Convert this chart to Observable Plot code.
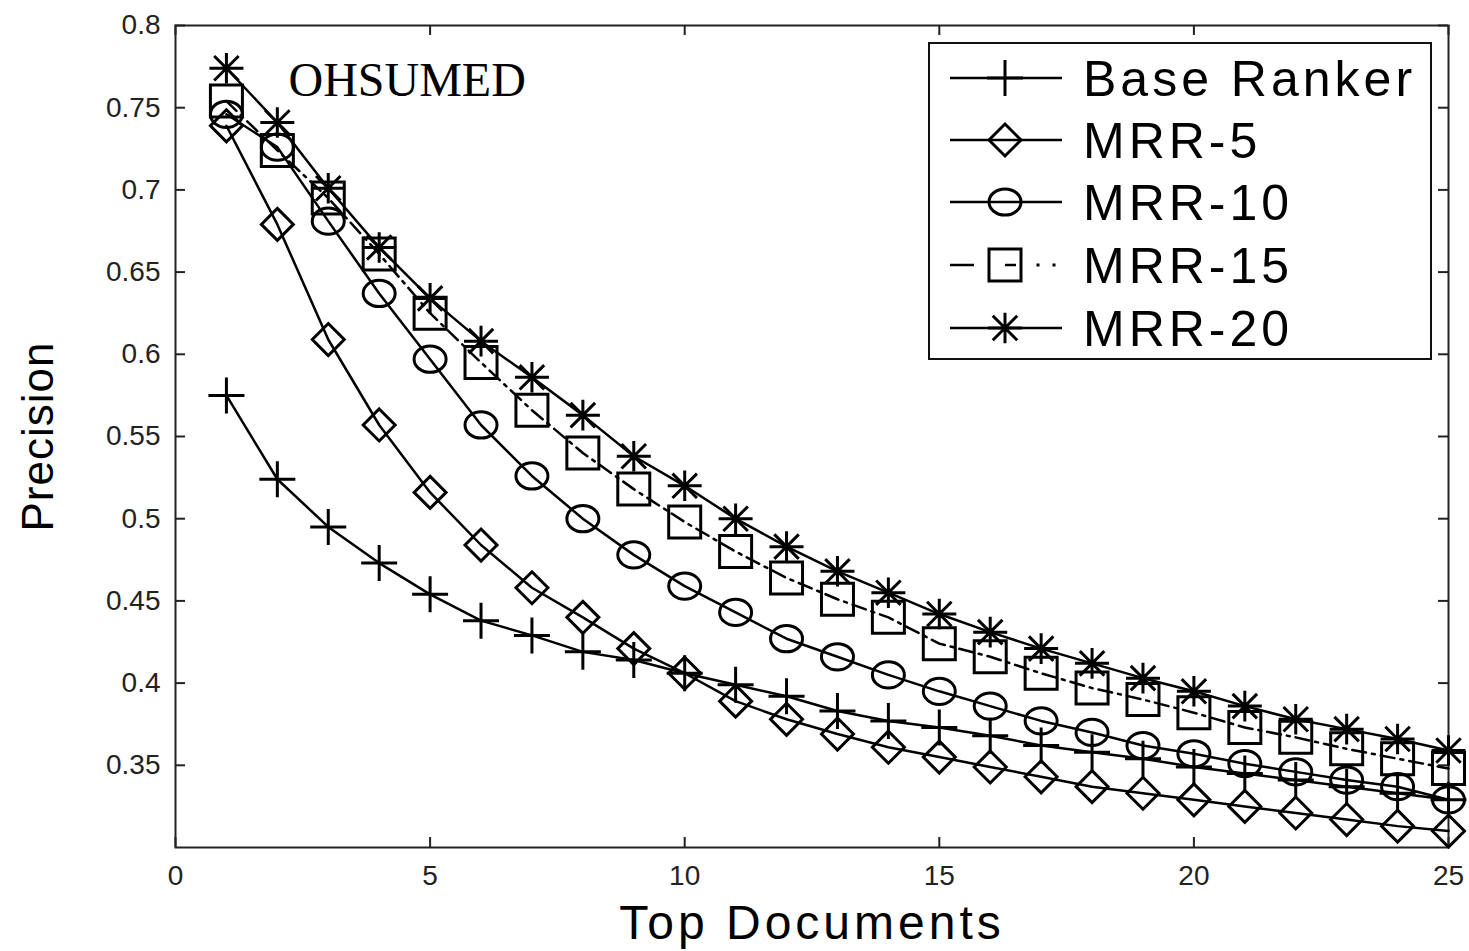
<!DOCTYPE html>
<html><head><meta charset="utf-8">
<script src="https://cdn.jsdelivr.net/npm/d3@7"></script>
<script src="https://cdn.jsdelivr.net/npm/@observablehq/plot@0.6"></script>
<style>
html,body{margin:0;padding:0;background:#fff;}
#wrap{position:relative;width:1469px;height:951px;}
</style>
</head><body>
<div id="wrap"></div>
<script>
// ---- data ----
const topDocs = [1,2,3,4,5,6,7,8,9,10,11,12,13,14,15,16,17,18,19,20,21,22,23,24,25];
const seriesNames = ["Base Ranker","MRR-5","MRR-10","MRR-15","MRR-20"];
const baseRanker = [0.575,0.524,0.495,0.473,0.454,0.438,0.429,0.419,0.414,0.406,0.399,0.392,0.383,0.377,0.373,0.368,0.362,0.358,0.354,0.349,0.345,0.341,0.337,0.333,0.329];
const mrr5  = [0.739,0.679,0.609,0.557,0.516,0.484,0.458,0.440,0.421,0.406,0.389,0.378,0.369,0.361,0.355,0.349,0.343,0.337,0.333,0.329,0.325,0.321,0.317,0.313,0.310];
const mrr10 = [0.746,0.726,0.681,0.637,0.597,0.557,0.526,0.500,0.478,0.459,0.443,0.427,0.416,0.405,0.395,0.386,0.377,0.370,0.362,0.357,0.351,0.346,0.341,0.337,0.329];
const mrr15 = [0.754,0.724,0.695,0.661,0.625,0.595,0.566,0.540,0.518,0.498,0.480,0.464,0.451,0.440,0.424,0.416,0.406,0.397,0.390,0.382,0.373,0.367,0.360,0.354,0.348];
const mrr20 = [0.774,0.741,0.701,0.665,0.634,0.608,0.586,0.563,0.538,0.520,0.500,0.483,0.468,0.455,0.442,0.431,0.421,0.412,0.403,0.395,0.386,0.378,0.372,0.366,0.359];
const xTicks = [0,5,10,15,20,25];
const yTicks = [0.35,0.4,0.45,0.5,0.55,0.6,0.65,0.7,0.75,0.8];
const xLabel = "Top Documents";
const yLabel = "Precision";
const annotation = "OHSUMED";

// ---- symbols (MATLAB-like, unfilled) ----
const R = s => Math.sqrt(s / Math.PI);
const symPlus = {draw(c, s){const r=R(s); c.moveTo(-r,0); c.lineTo(r,0); c.moveTo(0,-r); c.lineTo(0,r);}};
const symDiamond = {draw(c, s){const r=R(s); c.moveTo(0,-r); c.lineTo(r,0); c.lineTo(0,r); c.lineTo(-r,0); c.closePath();}};
const symCircle = {draw(c, s){const rx=R(s), ry=rx*0.82, k=0.5523;
  c.moveTo(rx,0); c.bezierCurveTo(rx,k*ry,k*rx,ry,0,ry); c.bezierCurveTo(-k*rx,ry,-rx,k*ry,-rx,0);
  c.bezierCurveTo(-rx,-k*ry,-k*rx,-ry,0,-ry); c.bezierCurveTo(k*rx,-ry,rx,-k*ry,rx,0); c.closePath();}};
const symSquare = {draw(c, s){const r=R(s); c.moveTo(-r,-r); c.lineTo(r,-r); c.lineTo(r,r); c.lineTo(-r,r); c.closePath();}};
const symStar = {draw(c, s){const r=R(s), d=r*0.72; c.moveTo(-r,0); c.lineTo(r,0); c.moveTo(0,-r*0.9); c.lineTo(0,r*0.9);
  c.moveTo(-d,-d); c.lineTo(d,d); c.moveTo(-d,d); c.lineTo(d,-d);}};

const seriesValues = [baseRanker, mrr5, mrr10, mrr15, mrr20];
const styles = [
  {symbol: symPlus, r: 18, dash: null},
  {symbol: symDiamond, r: 16, dash: null},
  {symbol: symCircle, r: 16, dash: null},
  {symbol: symSquare, r: 16, dash: "14,6,3,6"},
  {symbol: symStar, r: 17, dash: null}
];

const rows = [];
seriesNames.forEach((name, i) => topDocs.forEach((x, j) => rows.push({series: name, x, y: seriesValues[i][j]})));

const W = 1469, H = 951, mL = 175, mR = 21, mT = 25, mB = 104;
const plotW = W - mL - mR, plotH = H - mT - mB, tick = 10;
const font = "'Liberation Sans', Arial, Helvetica, sans-serif";

const marks = [
  Plot.frame({stroke: "#222", strokeWidth: 2}),
  Plot.tickY(yTicks, {y: d => d, insetRight: plotW - tick, stroke: "#222", strokeWidth: 2}),
  Plot.tickY(yTicks, {y: d => d, insetLeft: plotW - tick, stroke: "#222", strokeWidth: 2}),
  Plot.tickX(xTicks, {x: d => d, insetBottom: plotH - tick, stroke: "#222", strokeWidth: 2}),
  Plot.tickX(xTicks, {x: d => d, insetTop: plotH - tick, stroke: "#222", strokeWidth: 2}),
  Plot.axisY(yTicks, {anchor: "left", tickSize: 0, tickPadding: 15, fontSize: 28, label: null, fill: "#222", tickFormat: d => String(d)}),
  Plot.axisX(xTicks, {anchor: "bottom", tickSize: 0, tickPadding: 18, fontSize: 28, label: null, fill: "#222", tickFormat: d => String(d)}),
  Plot.text([xLabel], {frameAnchor: "bottom", dy: 76, fontSize: 48, fill: "#000", textAnchor: "middle", lineAnchor: "middle"}),
  Plot.text([yLabel], {frameAnchor: "left", dx: -137, rotate: -90, fontSize: 44, fill: "#000", textAnchor: "middle", lineAnchor: "middle"}),
  Plot.text([annotation], {frameAnchor: "top-left", dx: 113, dy: 55, fontSize: 48, fontFamily: "'Liberation Serif', 'Times New Roman', serif", textAnchor: "start", lineAnchor: "middle", fill: "#000"})
];
seriesNames.forEach((name, i) => {
  const data = rows.filter(d => d.series === name);
  const st = styles[i];
  marks.push(Plot.line(data, {x: "x", y: "y", stroke: "#000", strokeWidth: 2.5, strokeDasharray: st.dash}));
  marks.push(Plot.dot(data, {x: "x", y: "y", symbol: st.symbol, r: st.r, stroke: "#000", strokeWidth: 3, fill: "none"}));
});

const chart = Plot.plot({
  width: W, height: H,
  marginLeft: mL, marginRight: mR, marginTop: mT, marginBottom: mB,
  x: {domain: [0, 25]},
  y: {domain: [0.3, 0.8]},
  style: {fontFamily: font, background: "#fff", color: "#000", overflow: "visible"},
  marks
});
const wrap = document.getElementById("wrap");
wrap.appendChild(chart);
// letter spacing of the axis titles (MATLAB-like wide lettering)
d3.select(chart).selectAll("text").each(function() {
  if (this.textContent === xLabel) this.setAttribute("letter-spacing", "4");
  if (this.textContent === yLabel) this.setAttribute("letter-spacing", "1");
});

// ---- legend (inside the axes, as in the original) ----
const LW = 504, LH = 318, rowY = [36, 98, 160, 223, 286];
const leg = d3.create("svg").attr("width", LW).attr("height", LH)
  .style("position", "absolute").style("left", "928px").style("top", "42px");
leg.append("rect").attr("x", 1).attr("y", 1).attr("width", LW - 2).attr("height", LH - 2)
  .attr("fill", "#fff").attr("stroke", "#111").attr("stroke-width", 2);
seriesNames.forEach((name, i) => {
  const y = rowY[i], st = styles[i];
  if (st.dash) {
    leg.append("line").attr("x1", 22).attr("x2", 46).attr("y1", y).attr("y2", y).attr("stroke", "#000").attr("stroke-width", 2.5);
    leg.append("line").attr("x1", 77).attr("x2", 88).attr("y1", y).attr("y2", y).attr("stroke", "#000").attr("stroke-width", 2.5);
    [110, 126].forEach(cx => leg.append("rect").attr("x", cx - 1.5).attr("y", y - 1.5).attr("width", 3).attr("height", 3).attr("fill", "#000"));
  } else {
    leg.append("line").attr("x1", 22).attr("x2", 134).attr("y1", y).attr("y2", y).attr("stroke", "#000").attr("stroke-width", 2.5);
  }
  const p = d3.path();
  st.symbol.draw(p, Math.PI * st.r * st.r);
  leg.append("path").attr("d", p.toString()).attr("transform", `translate(77,${y})`)
    .attr("fill", "none").attr("stroke", "#000").attr("stroke-width", 3);
  leg.append("text").attr("x", 155).attr("y", y + 18).text(name)
    .attr("font-family", font).attr("font-size", 50).attr("letter-spacing", 4).attr("fill", "#000");
});
wrap.appendChild(leg.node());
</script>
</body></html>
